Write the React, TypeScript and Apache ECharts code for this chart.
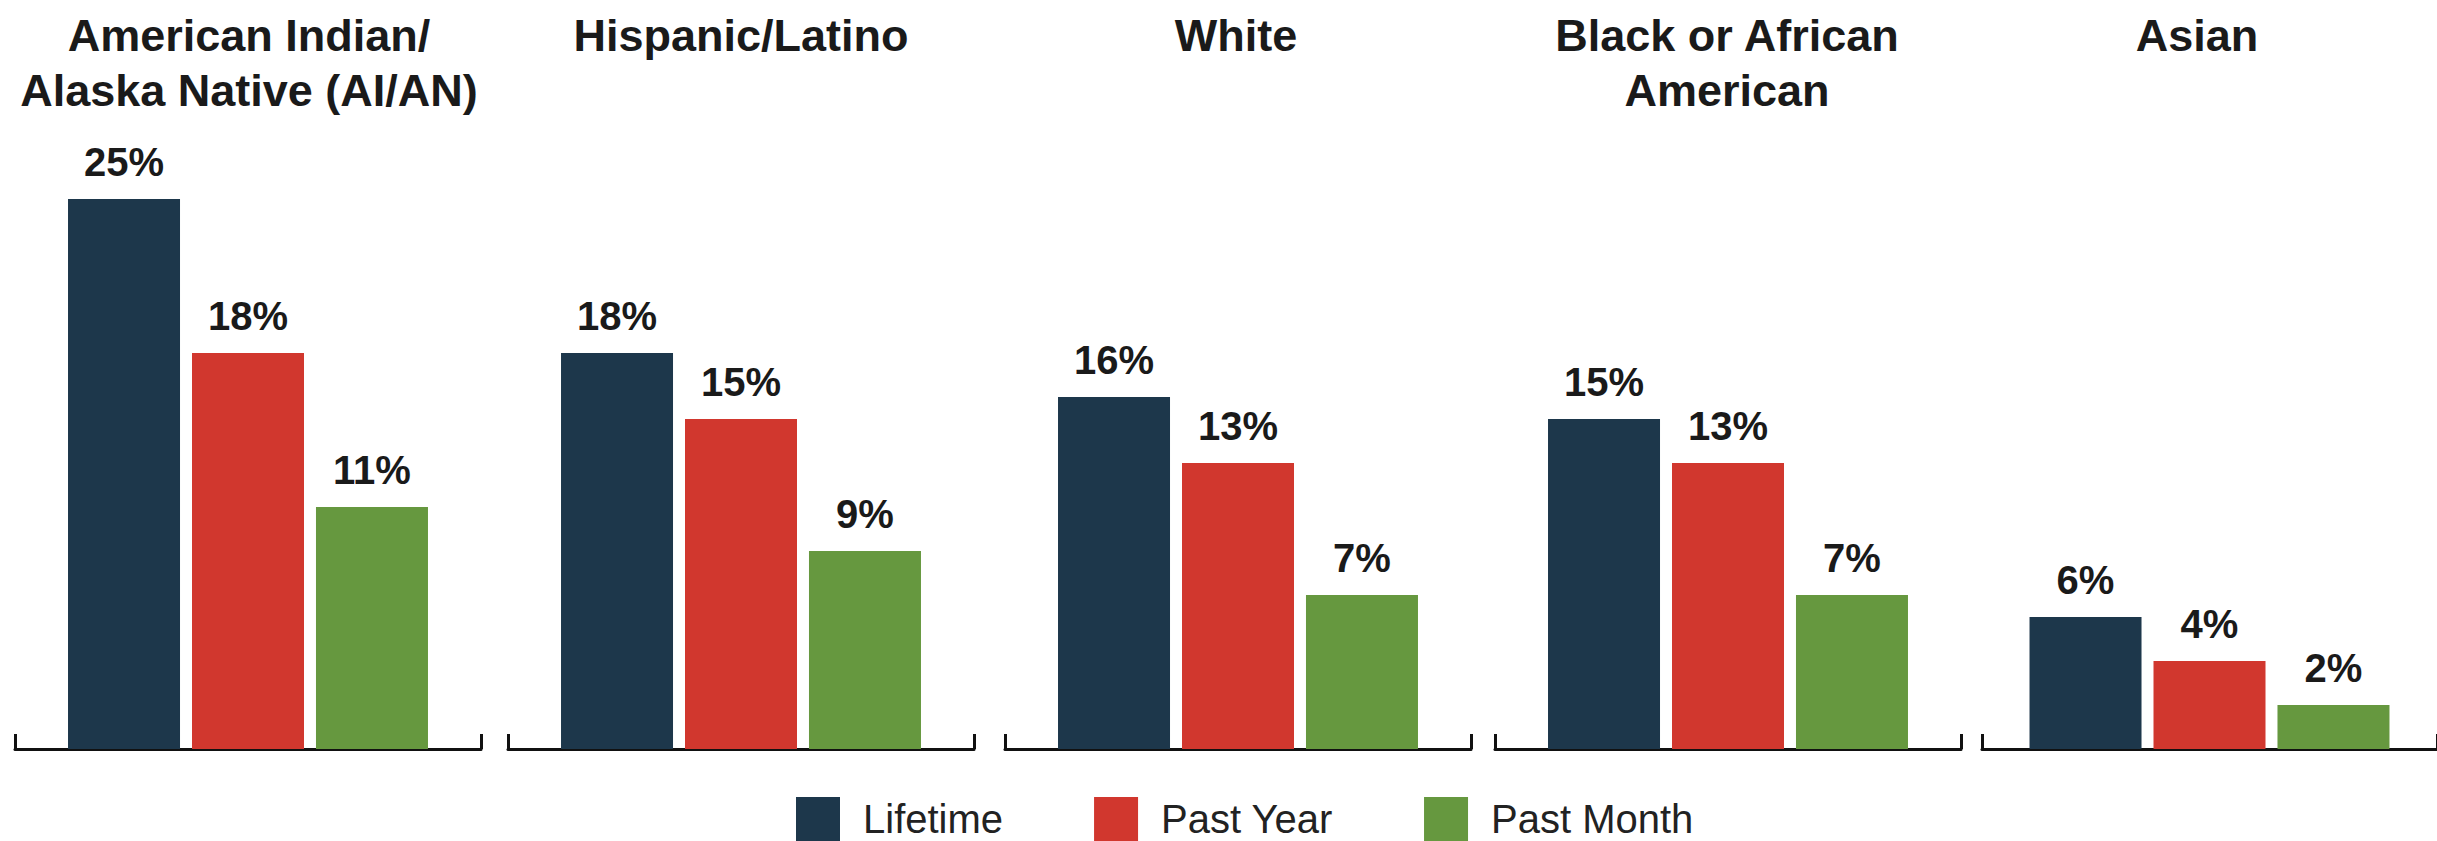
import React, { useEffect, useRef } from "react";
import * as echarts from "echarts";

const groups = [
  "American Indian/\nAlaska Native (AI/AN)",
  "Hispanic/Latino",
  "White",
  "Black or African\nAmerican",
  "Asian",
];
const seriesNames = ["Lifetime", "Past Year", "Past Month"];
const lifetime = [25, 18, 16, 15, 6];
const pastYear = [18, 15, 13, 13, 4];
const pastMonth = [11, 9, 7, 7, 2];

const colors = ["#1d374b", "#d1372e", "#66983f"];
const panelLeft = [15, 508, 1005, 1495, 1982];
const panelWidth = 466;
const titleCenters = [249, 741, 1236, 1727, 2197];
const FONT = "'Liberation Sans', Arial, Helvetica, sans-serif";

export default function App() {
  const ref = useRef<HTMLDivElement>(null);
  useEffect(() => {
    document.body.style.margin = "0";
    const chart = echarts.init(ref.current!, undefined, { renderer: "svg" });
    const values = [lifetime, pastYear, pastMonth];
    const grid = panelLeft.map((l) => ({ left: l, width: panelWidth, top: 89, height: 660 }));
    const xAxis = groups.map((g, i) => ({
      type: "category",
      gridIndex: i,
      data: [g],
      boundaryGap: true,
      axisLabel: { show: false },
      axisLine: { show: true, lineStyle: { color: "#111", width: 3 } },
      axisTick: { show: true, inside: true, length: 15, lineStyle: { color: "#111", width: 3 } },
    }));
    const yAxis = groups.map((_, i) => ({
      type: "value",
      gridIndex: i,
      min: 0,
      max: 30,
      show: false,
      splitLine: { show: false },
    }));
    const series: any[] = [];
    groups.forEach((_, i) => {
      seriesNames.forEach((name, s) => {
        series.push({
          type: "bar",
          name,
          xAxisIndex: i,
          yAxisIndex: i,
          data: [values[s][i]],
          barWidth: 112,
          barGap: "10.7%",
          itemStyle: { color: colors[s] },
          label: {
            show: true,
            position: "top",
            distance: 17,
            formatter: "{c}%",
            fontSize: 40,
            fontWeight: "bold",
            fontFamily: FONT,
            color: "#1a1a1a",
          },
        });
      });
    });
    chart.setOption({
      animation: false,
      backgroundColor: "#ffffff",
      color: colors,
      grid,
      xAxis,
      yAxis,
      series,
      legend: {
        data: seriesNames,
        left: 796,
        top: 797,
        padding: 0,
        itemWidth: 44,
        itemHeight: 44,
        itemGap: 91,
        icon: "rect",
        selectedMode: false,
        textStyle: { fontSize: 40, fontFamily: FONT, color: "#222", padding: [0, 0, 0, 18] },
      },
      graphic: groups.map((g, i) => ({
        type: "text",
        x: titleCenters[i],
        y: 8,
        style: {
          text: g,
          align: "center",
          verticalAlign: "top",
          fontSize: 45,
          fontWeight: "bold",
          fontFamily: FONT,
          lineHeight: 55,
          fill: "#1a1a1a",
        },
      })),
    });
    return () => chart.dispose();
  }, []);
  return (
    <div
      ref={ref}
      style={{ position: "absolute", left: 0, top: 0, width: 2437, height: 841, background: "#fff" }}
    />
  );
}
